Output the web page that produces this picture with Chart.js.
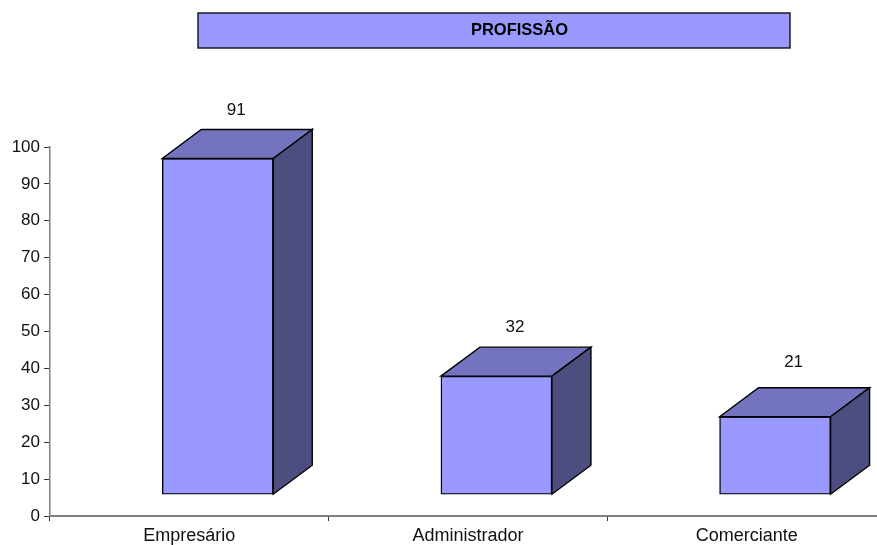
<!DOCTYPE html>
<html>
<head>
<meta charset="utf-8">
<style>
  html, body { margin: 0; padding: 0; background: #fff; overflow: hidden; width: 877px; height: 545px; }
  canvas { display: block; }
</style>
<script src="https://cdn.jsdelivr.net/npm/chart.js@4/dist/chart.umd.min.js"></script>
</head>
<body>
<canvas id="chart" width="886" height="545"></canvas>
<script>
const chartTitle = 'PROFISSÃO';
const categories = ['Empresário', 'Administrador', 'Comerciante'];
const values = [91, 32, 21];
const yTicks = [0, 10, 20, 30, 40, 50, 60, 70, 80, 90, 100];

const FONT = "'Liberation Sans', Arial, sans-serif";
const colors = {
  front: '#9999ff',
  top: '#7373bf',
  side: '#4d4d80',
  axis: '#808080',
  text: '#111'
};

// Box depth of the fake 3D projection, in pixels
const DEPTH_X = 39;
const DEPTH_Y = 29;
// Gap between each box and its value label
const labelLift = [19, 20, 25];

function face(ctx, points, fill) {
  ctx.beginPath();
  points.forEach((p, i) => (i ? ctx.lineTo(p[0], p[1]) : ctx.moveTo(p[0], p[1])));
  ctx.closePath();
  ctx.fillStyle = fill;
  ctx.fill();
  ctx.stroke();
}

// ── Top and side faces plus the value labels, hung off the real bar elements ──
const boxFaces = {
  id: 'boxFaces',
  afterDatasetsDraw(chart) {
    const ctx = chart.ctx;
    ctx.save();
    ctx.lineWidth = 1.4;
    ctx.lineJoin = 'miter';
    ctx.strokeStyle = '#000';
    chart.getDatasetMeta(0).data.forEach((bar, i) => {
      const l = bar.x - bar.width / 2;
      const r = bar.x + bar.width / 2;
      const t = bar.y;
      const b = bar.base;
      face(ctx, [[l, t], [l + DEPTH_X, t - DEPTH_Y], [r + DEPTH_X, t - DEPTH_Y], [r, t]], colors.top);
      face(ctx, [[r, t], [r + DEPTH_X, t - DEPTH_Y], [r + DEPTH_X, b - DEPTH_Y], [r, b]], colors.side);

      ctx.fillStyle = colors.text;
      ctx.font = '17px ' + FONT;
      ctx.textAlign = 'center';
      ctx.textBaseline = 'middle';
      ctx.fillText(String(values[i]), bar.x + DEPTH_X / 2 - 1, t - DEPTH_Y - labelLift[i]);
    });
    ctx.restore();
  }
};

// ── Title banner above the plot ──
const titleBox = {
  id: 'titleBox',
  afterDraw(chart) {
    const ctx = chart.ctx;
    ctx.save();
    ctx.fillStyle = colors.front;
    ctx.strokeStyle = '#111';
    ctx.lineWidth = 1.4;
    ctx.fillRect(198, 13, 592, 35);
    ctx.strokeRect(198, 13, 592, 35);
    ctx.fillStyle = '#000';
    ctx.font = 'bold 16.5px ' + FONT;
    ctx.textAlign = 'center';
    ctx.textBaseline = 'middle';
    ctx.fillText(chartTitle, 519.5, 30);
    ctx.restore();
  }
};

new Chart(document.getElementById('chart'), {
  type: 'bar',
  data: {
    labels: categories,
    datasets: [{
      data: values.map((v, i) => ({ x: i, y: v })),
      xAxisID: 'xBars',
      yAxisID: 'yBars',
      backgroundColor: colors.front,
      borderColor: '#000',
      borderWidth: 1.4,
      borderSkipped: false,
      barThickness: 111
    }]
  },
  options: {
    responsive: false,
    animation: false,
    layout: { padding: { top: 147, left: 0, right: 0, bottom: 0 } },
    plugins: { legend: { display: false }, tooltip: { enabled: false }, title: { display: false } },
    scales: {
      x: {
        type: 'category',
        offset: true,
        afterFit(scale) { scale.height = 29; },
        border: { color: colors.axis, width: 2 },
        grid: { drawOnChartArea: false, offset: true, color: '#333', tickLength: 5 },
        ticks: { color: colors.text, padding: 4, maxRotation: 0, font: { family: FONT, size: 18 } }
      },
      y: {
        min: 0,
        max: 100,
        afterFit(scale) { scale.width = 50; },
        afterBuildTicks(scale) { scale.ticks = yTicks.map(v => ({ value: v })); },
        border: { color: colors.axis, width: 1.5 },
        grid: { drawOnChartArea: false, color: '#333', tickLength: 6 },
        ticks: { color: colors.text, padding: 4, font: { family: FONT, size: 17 } }
      },
      // Hidden axes that push the boxes off the floor line and to the right of the category centre
      xBars: { type: 'linear', display: false, offset: false, min: -0.602, max: 2.398 },
      yBars: { display: false, min: -5.9, max: 94.1 }
    }
  },
  plugins: [boxFaces, titleBox]
});
</script>
</body>
</html>
